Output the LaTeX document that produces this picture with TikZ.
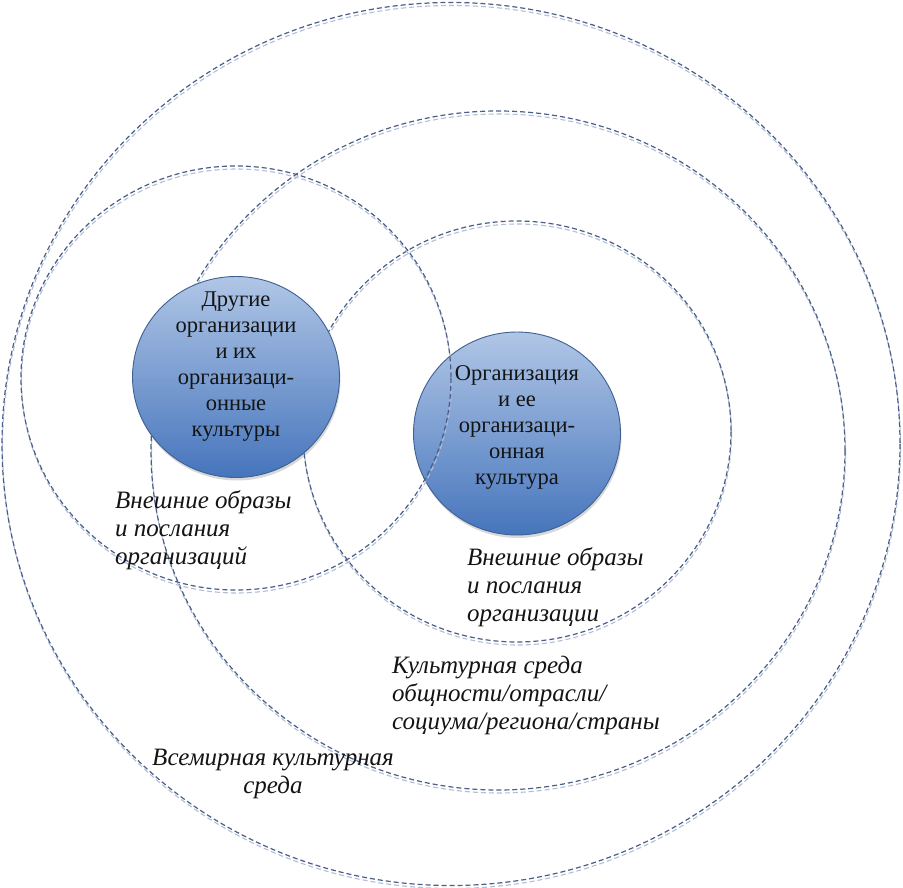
\documentclass[tikz,border=0pt]{standalone}
\usepackage{fontspec}
\setmainfont{Liberation Serif}
\usetikzlibrary{shapes.geometric,shadows}
\definecolor{ringdark}{RGB}{74,94,136}
\definecolor{ringlight}{RGB}{176,190,214}
\definecolor{circtop}{RGB}{176,198,230}
\definecolor{circbot}{RGB}{70,117,188}
\definecolor{circedge}{RGB}{62,96,146}
\definecolor{inkc}{RGB}{20,20,20}
\begin{document}
\begin{tikzpicture}[x=1pt,y=-1pt,
  ring/.style={draw=ringdark,line width=1.2pt,dash pattern=on 5pt off 3pt},
  ringshade/.style={draw=ringlight,line width=1.1pt,dash pattern=on 5pt off 3pt},
  orgdisc/.style={ellipse,draw=circedge,line width=0.9pt,top color=circtop,bottom color=circbot,inner sep=0pt,
    drop shadow={shadow xshift=1pt,shadow yshift=-3pt,opacity=0.25,fill=black!60}},
  disctext/.style={align=center,inner sep=0pt,text=inkc,font=\fontsize{22.5}{26}\selectfont},
  lbl/.style={inner sep=0pt,text=inkc,font=\itshape\fontsize{25}{28}\selectfont},
]
\useasboundingbox (0,0) rectangle (903,888);
\fill[white] (0,0) rectangle (903,888);

% world
\draw[ringshade,shift={(0.5,3)}] (451,444) ellipse [x radius=449,y radius=441.5];
\draw[ring] (451,444) ellipse [x radius=449,y radius=441.5];
% community culture
\draw[ringshade,shift={(0.5,3)}] (498,450.5) ellipse [x radius=347,y radius=339.5];
\draw[ring] (498,450.5) ellipse [x radius=347,y radius=339.5];
% organisation images
\draw[ringshade,shift={(0.5,3)}] (517,431.5) ellipse [x radius=214,y radius=210.5];
\draw[ring] (517,431.5) ellipse [x radius=214,y radius=210.5];

% discs
\node[orgdisc,minimum width=207pt,minimum height=201pt] (others) at (236,377) {};
\node[orgdisc,minimum width=207pt,minimum height=203pt] (org) at (517,433.5) {};

% other organisations images
\draw[ringshade,shift={(0.5,3)}] (236,378) ellipse [x radius=215,y radius=212];
\draw[ring] (236,378) ellipse [x radius=215,y radius=212];

\node[disctext] (otherstxt) at (236,367) {Другие\\организации\\и их\\организаци-\\онные\\культуры};
\node[disctext] (orgtxt) at (517,427.5) {Организация\\и ее\\организаци-\\онная\\культура};

\node[lbl,align=left,anchor=west] (l1) at (115,530) {Внешние образы\\и послания\\организаций};
\node[lbl,align=left,anchor=west] (l2) at (467,587) {Внешние образы\\и послания\\организации};
\node[lbl,align=left,anchor=west] (l3) at (392,696) {Культурная среда\\общности/отрасли/\\социума/региона/страны};
\node[lbl,align=center] (l4) at (273,773.5) {Всемирная культурная\\среда};
\end{tikzpicture}
\end{document}
